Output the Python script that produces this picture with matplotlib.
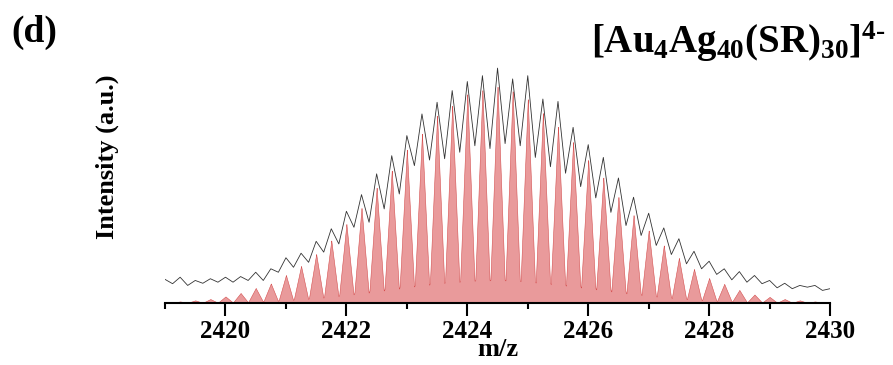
import matplotlib

matplotlib.use("Agg")
import matplotlib.pyplot as plt
import numpy as np
from matplotlib.ticker import MultipleLocator

# Isotope pattern of [Au4Ag40(SR)30]4-, peaks every 0.25 m/z (z = 4)
PEAK_START = 2419.0
PEAK_STEP = 0.25

# simulated pattern, relative intensity (max = 100)
sim_heights = [
    0.5, 0.7, 1.2, 1.8, 3.0, 4.6, 6.9, 9.0, 12.9, 17.1, 22.6, 28.9, 36.5,
    43.9, 53.3, 61.2, 70.9, 78.3, 86.6, 91.2, 96.5, 98.4, 100.0, 97.9, 94.2,
    87.8, 81.5, 74.4, 66.1, 58.0, 49.0, 40.6, 33.5, 26.6, 20.8, 15.7, 11.5,
    8.8, 6.0, 3.9, 2.8, 1.8, 1.2, 0.7, 0.5,
]

# experimental trace (offset upwards): maxima at the isotope positions
exp_peaks = [
    10.9, 11.9, 10.4, 11.2, 11.9, 12.2, 14.2, 15.8, 20.9, 23.0, 28.5, 34.3,
    42.4, 50.1, 59.7, 68.1, 77.4, 87.4, 92.8, 98.2, 102.4, 105.1, 108.6,
    103.6, 105.1, 94.3, 93.2, 81.2, 73.2, 67.3, 57.8, 48.9, 41.5, 34.7, 29.7,
    23.9, 19.3, 15.8, 14.5, 12.7, 10.4, 9.1, 8.1, 8.1, 6.6,
]
# ... and the minima halfway between them
exp_valleys = [
    8.9, 8.1, 9.1, 9.6, 9.6, 10.4, 10.4, 14.2, 16.5, 18.8, 23.5, 27.3, 35.0,
    37.3, 43.5, 50.4, 63.5, 66.1, 66.7, 69.7, 72.7, 71.4, 73.7, 72.7, 67.3,
    63.0, 60.0, 53.8, 48.6, 41.9, 35.8, 31.2, 26.6, 22.4, 18.1, 15.8, 13.2,
    10.7, 9.6, 8.9, 7.0, 6.6, 7.3, 5.8,
]

# half base width of each (triangular) simulated peak
PEAK_HALF_WIDTH = 0.132

plt.rcParams["font.family"] = ["Liberation Serif", "DejaVu Serif"]
plt.rcParams["font.weight"] = "bold"
plt.rcParams["mathtext.fontset"] = "custom"
plt.rcParams["mathtext.rm"] = "Liberation Serif:bold"
plt.rcParams["mathtext.bf"] = "Liberation Serif:bold"
plt.rcParams["mathtext.it"] = "Liberation Serif:bold"

centers = PEAK_START + PEAK_STEP * np.arange(len(sim_heights))
mz = np.linspace(2419.0, 2430.0, 4401)
sim = np.zeros_like(mz)
for c, h in zip(centers, sim_heights):
    sim += h * np.clip(1 - np.abs(mz - c) / PEAK_HALF_WIDTH, 0, None)

# interleave maxima and minima into one trace
exp_x = np.empty(len(exp_peaks) + len(exp_valleys))
exp_y = np.empty_like(exp_x)
exp_x[0::2] = centers
exp_x[1::2] = centers[:-1] + PEAK_STEP / 2
exp_y[0::2] = exp_peaks
exp_y[1::2] = exp_valleys

fig = plt.figure(figsize=(8.93, 3.65), dpi=100)
ax = fig.add_axes([0.1848, 0.170, 0.7447, 0.657])

ax.fill_between(mz, 0, sim, color="#e99a9b", edgecolor="#d55050", linewidth=0.4)
ax.plot(exp_x, exp_y, color="#333333", linewidth=0.6)

ax.set_xlim(2419, 2430)
ax.set_ylim(0, 110.9)

for side in ("left", "right", "top"):
    ax.spines[side].set_visible(False)
ax.spines["bottom"].set_linewidth(1.5)
ax.set_yticks([])

ax.xaxis.set_major_locator(MultipleLocator(2))
ax.xaxis.set_minor_locator(MultipleLocator(1))
ax.tick_params(axis="x", which="major", direction="out", length=9, width=1.5,
               labelsize=18, pad=3)
ax.tick_params(axis="x", which="minor", direction="out", length=4.5, width=1.5)
for lbl in ax.get_xticklabels():
    lbl.set_fontweight("bold")

ax.set_xlabel("m/z", fontsize=19, fontweight="bold", labelpad=-3)
fig.text(0.120, 0.570, "Intensity (a.u.)", rotation=90, fontsize=19,
         fontweight="bold", ha="center", va="center")

fig.text(0.013, 0.912, "(d)", fontsize=27, fontweight="bold", ha="left",
         va="center")
fig.text(0.992, 0.885, r"$\mathbf{[Au_4Ag_{40}(SR)_{30}]^{4\text{-}}}$",
         fontsize=28, ha="right", va="center")

fig.savefig("out.png", dpi=100)
